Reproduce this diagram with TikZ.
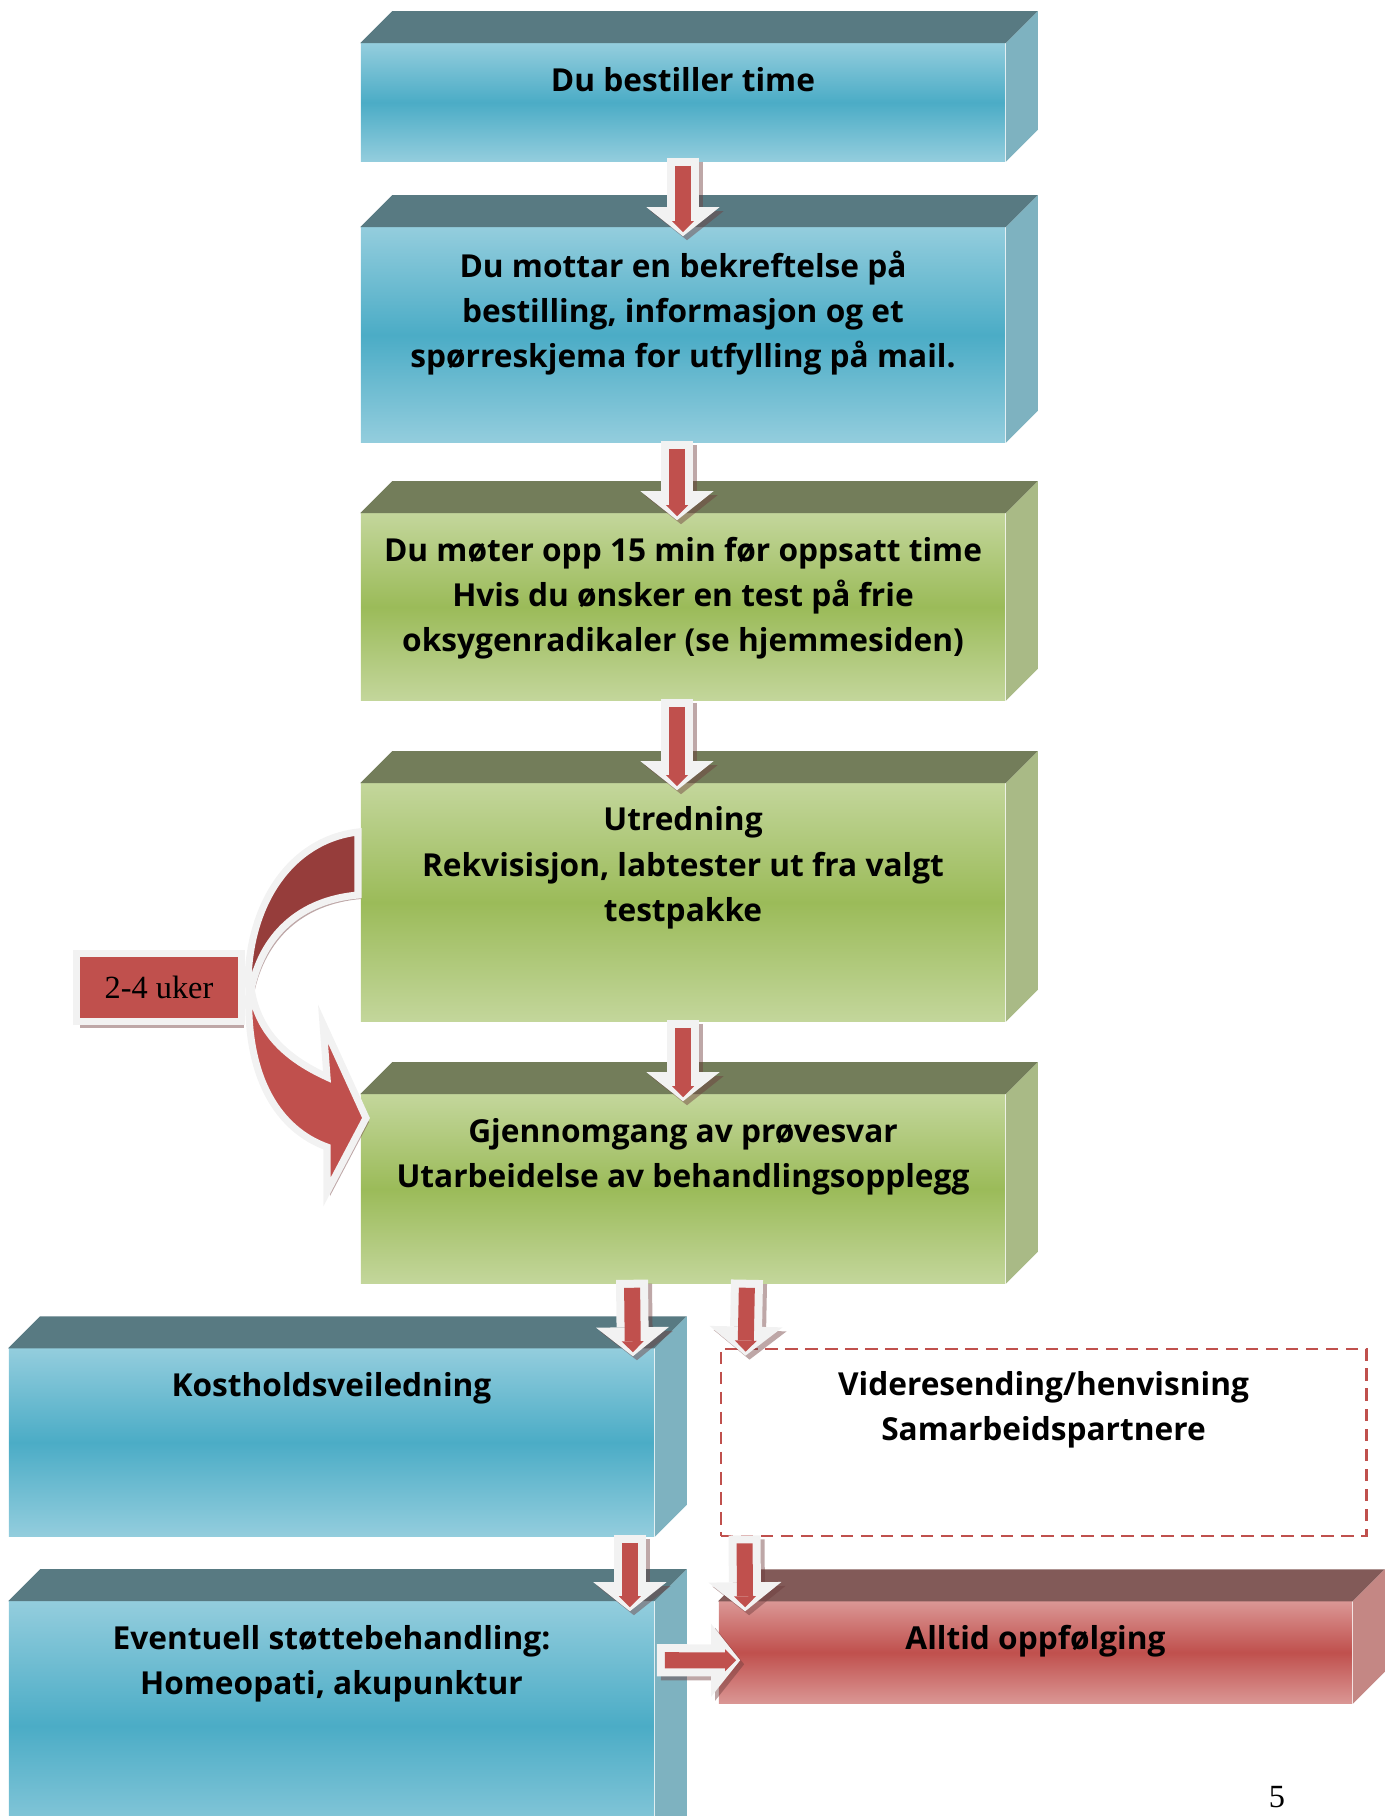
\documentclass[tikz,border=0pt]{standalone}
\usepackage{fontspec}
\setmainfont{Liberation Serif}
\newfontfamily\boxfont{Open Sans}
\usetikzlibrary{positioning,calc,arrows.meta,shadows}

\definecolor{bluelt}{RGB}{147,205,221}
\definecolor{bluedk}{RGB}{75,172,198}
\definecolor{bluetop}{RGB}{88,122,130}
\definecolor{blueside}{RGB}{126,178,192}
\definecolor{greenlt}{RGB}{195,214,155}
\definecolor{greendk}{RGB}{155,187,89}
\definecolor{greentop}{RGB}{115,125,90}
\definecolor{greenside}{RGB}{169,186,134}
\definecolor{redlt}{RGB}{218,150,148}
\definecolor{reddk}{RGB}{192,80,77}
\definecolor{redtop}{RGB}{130,90,88}
\definecolor{redside}{RGB}{196,135,132}
\definecolor{redback}{RGB}{150,61,59}
\definecolor{arrw}{RGB}{242,242,242}
\definecolor{shadowc}{RGB}{110,60,60}

\begin{document}
\begin{tikzpicture}[x=0.01cm, y=-0.01cm]
    \tikzset{face/.style={rectangle, inner sep=0pt, minimum width=6.44cm}}
    \tikzset{bluebox/.style={face, top color=bluelt, bottom color=bluelt, middle color=bluedk}}
    \tikzset{greenbox/.style={face, top color=greenlt, bottom color=greenlt, middle color=greendk}}
    \tikzset{redbox/.style={face, top color=redlt, bottom color=redlt, middle color=reddk}}
    \tikzset{dashbox/.style={face, draw=reddk, line width=0.75pt, dash pattern=on 0.125cm off 0.075cm}}
    \tikzset{boxtext/.style={inner sep=0pt, align=center, font={\boxfont\bfseries\fontsize{9pt}{12.8pt}\selectfont}}}
    \tikzset{weekbox/.style={rectangle, inner sep=0pt, fill=reddk, draw=arrw, line width=2pt, minimum width=1.64cm, minimum height=0.68cm, font={\fontsize{9.2pt}{11pt}\selectfont}, drop shadow={shadow xshift=0.03cm, shadow yshift=-0.06cm, fill=shadowc, opacity=0.45}}}
    \tikzset{arrbody/.style={draw=arrw, line width=0.32cm, -{Triangle[length=0.29cm, width=0.73cm, line width=0pt]}}}
    \tikzset{arrcore/.style={draw=reddk, line width=0.16cm, shorten <=0.08cm, shorten >=0.04cm, -{Triangle[length=0.11cm, width=0.22cm, line width=0pt]}}}
    \tikzset{arrshade/.style={arrbody, draw=shadowc, opacity=0.45, transform canvas={shift={(0.04cm,-0.04cm)}}}}
    \tikzset{bentarr/.style={draw=arrw, line width=2pt, drop shadow={shadow xshift=0.03cm, shadow yshift=-0.04cm, fill=shadowc, opacity=0.45}}}

    \clip (0,0) rectangle (1394,1816);

    % front faces
    \node [bluebox, minimum height=1.17cm] (b1) at (683,102.5) {};
    \node [bluebox, minimum height=2.14cm] (b2) at (683,335) {};
    \node [greenbox, minimum height=1.86cm] (b3) at (683,607) {};
    \node [greenbox, minimum height=2.37cm] (b4) at (683,902.5) {};
    \node [greenbox, minimum height=1.88cm] (b5) at (683,1189) {};
    \node [bluebox, minimum width=6.45cm, minimum height=1.87cm] (b6) at (331.5,1442.5) {};
    \node [dashbox, minimum width=6.45cm, minimum height=1.87cm] (b7) at (1043.5,1442.5) {};
    \node [bluebox, minimum width=6.45cm, minimum height=2.48cm] (b8) at (331.5,1726) {};
    \node [redbox, minimum width=6.33cm, minimum height=1.01cm] (b9) at (1035.5,1652.5) {};

    % top and side faces
    \foreach \n/\t/\s in {b1/bluetop/blueside, b2/bluetop/blueside, b3/greentop/greenside, b4/greentop/greenside, b5/greentop/greenside, b6/bluetop/blueside, b8/bluetop/blueside, b9/redtop/redside} {
        \fill [\t] (\n.north west) -- ++(32,-32) -- ($(\n.north east)+(32,-32)$) -- (\n.north east) -- cycle;
        \fill [\s] (\n.north east) -- ++(32,-32) -- ($(\n.south east)+(32,-32)$) -- (\n.south east) -- cycle;
    }

    % texts
    \node [boxtext, below=0.23cm of b1.north] (t1) {Du bestiller time};
    \node [boxtext, below=0.23cm of b2.north] (t2) {Du mottar en bekreftelse på\\bestilling, informasjon og et\\spørreskjema for utfylling på mail.};
    \node [boxtext, below=0.23cm of b3.north] (t3) {Du møter opp 15 min før oppsatt time\\Hvis du ønsker en test på frie\\oksygenradikaler (se hjemmesiden)};
    \node [boxtext, below=0.23cm of b4.north] (t4) {Utredning\\Rekvisisjon, labtester ut fra valgt\\testpakke};
    \node [boxtext, below=0.23cm of b5.north] (t5) {Gjennomgang av prøvesvar\\Utarbeidelse av behandlingsopplegg};
    \node [boxtext, below=0.23cm of b6.north] (t6) {Kostholdsveiledning};
    \node [boxtext, below=0.23cm of b7.north] (t7) {Videresending/henvisning\\Samarbeidspartnere};
    \node [boxtext, below=0.23cm of b8.north] (t8) {Eventuell støttebehandling:\\Homeopati, akupunktur};
    \node [boxtext, below=0.23cm of b9.north] (t9) {Alltid oppfølging};

    % 2-4 uker with the bent arrow
    \node [weekbox] (uker) at (159,987.5) {2-4 uker};
    \filldraw [bentarr, fill=redback] (358,832) .. controls (290,840) and (248,905) .. (248,985)
        -- (251,990) .. controls (262,935) and (300,900) .. (358,895) -- cycle;
    \filldraw [bentarr, fill=reddk] (249,988) .. controls (245,1080) and (280,1130) .. (327,1147)
        -- (327,1192) -- (366,1118) -- (323,1024) -- (327,1077)
        .. controls (290,1060) and (258,1035) .. (251,988) -- cycle;

    % block arrows
    \coordinate (s1) at ($(b1.south)+(0,-4)$);     \coordinate (e1) at ($(b2.north)+(0,9)$);
    \coordinate (s2) at ($(b2.south)+(-6,-2)$);    \coordinate (e2) at ($(b3.north)+(-6,7)$);
    \coordinate (s3) at ($(b3.south)+(-6,-2)$);    \coordinate (e3) at ($(b4.north)+(-6,7)$);
    \coordinate (s4) at ($(b4.south)+(0,-2)$);     \coordinate (e4) at ($(b5.north)+(0,7)$);
    \coordinate (s5) at ($(b5.south)+(-51,-4)$);   \coordinate (e5) at ($(b6.north east)+(-22,8)$);
    \coordinate (s6) at ($(b5.south)+(64,-4)$);    \coordinate (e6) at ($(b7.north west)+(26,8)$);
    \coordinate (s7) at ($(b6.south east)+(-25,-2)$); \coordinate (e7) at ($(b8.north east)+(-25,10)$);
    \coordinate (s8) at ($(b7.south west)+(25,-2)$);  \coordinate (e8) at ($(b9.north west)+(27,10)$);
    \coordinate (s9) at ($(b8.north east)+(2,59)$);   \coordinate (e9) at ($(b9.north west)+(22,59)$);
    \foreach \i in {1,...,9} {
        \draw [arrshade] (s\i) -- (e\i);
        \draw [arrbody] (s\i) -- (e\i);
        \draw [arrcore] (s\i) -- (e\i);
    }

    \node [font={\fontsize{9.2pt}{11pt}\selectfont}] (page) at (1277,1797) {5};
\end{tikzpicture}
\end{document}
